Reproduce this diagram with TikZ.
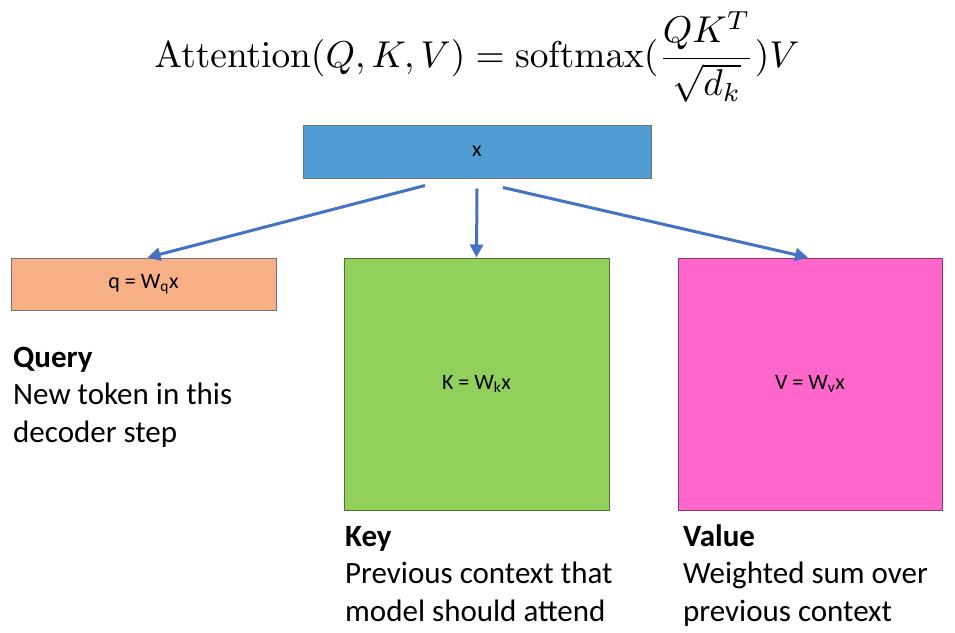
\documentclass[tikz,border=0pt]{standalone}
\usepackage[no-math]{fontspec}
\usepackage{graphicx}
\setmainfont{Carlito}
\usetikzlibrary{arrows.meta}

\definecolor{xblue}{RGB}{82,156,212}
\definecolor{qorange}{RGB}{248,176,135}
\definecolor{kgreen}{RGB}{146,208,92}
\definecolor{vpink}{RGB}{255,102,204}
\definecolor{arrowblue}{RGB}{68,114,196}

\tikzset{
  proj/.style={draw=black!55, line width=1pt, inner sep=0pt,
    font=\fontsize{22}{26}\selectfont},
  projarrow/.style={arrowblue, line width=3pt,
    -{Triangle[length=13pt,width=13pt]}},
  caption/.style={anchor=base west, align=left, inner sep=0pt,
    font=\fontsize{31}{37.5}\selectfont}
}

\begin{document}
\begin{tikzpicture}[x=1pt, y=-1pt]
  \useasboundingbox (0,0) rectangle (955,632);

  % formula
  \node (formula) at (477,57)
    {\resizebox{645pt}{!}{%
     $\displaystyle \mathrm{Attention}(Q,K,V)=\mathrm{softmax}(\frac{QK^T}{\sqrt{d_k}})V$}};

  % input and projections
  \node[proj, fill=xblue, minimum width=348pt, minimum height=53pt] (x) at (477,151.5) {x};
  \node[proj, fill=qorange, minimum width=265pt, minimum height=52pt] (q) at (143.5,284) {q = W\textsubscript{q}x};
  \node[proj, fill=kgreen, draw=black!45!kgreen, minimum width=265pt, minimum height=252pt] (k) at (476.5,384) {K = W\textsubscript{k}x};
  \node[proj, fill=vpink, draw=black!45!vpink, minimum width=264pt, minimum height=252pt] (v) at (810,384) {V = W\textsubscript{v}x};

  \draw[projarrow] ([xshift=-52pt,yshift=-7pt]x.south) -- ([xshift=4pt]q.north);
  \draw[projarrow] ([yshift=-10pt]x.south) -- (k.north);
  \draw[projarrow] ([xshift=26pt,yshift=-9pt]x.south) -- ([xshift=-2pt]v.north);

  % captions
  \node[caption] (qtext) at (13,442) {\textbf{Query}\\New token in this\\decoder step};
  \node[caption] (ktext) at (345,621) {\textbf{Key}\\Previous context that\\model should attend};
  \node[caption] (vtext) at (683,621) {\textbf{Value}\\Weighted sum over\\previous context};
\end{tikzpicture}
\end{document}
